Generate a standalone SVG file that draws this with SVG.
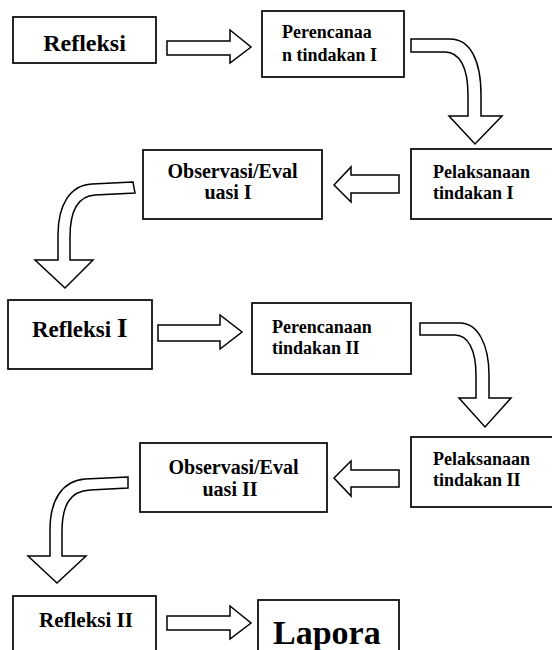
<svg xmlns="http://www.w3.org/2000/svg" width="552" height="650" viewBox="0 0 552 650">
<style>
.box{fill:#fff;stroke:#000;stroke-width:1.7}
.arr{fill:#fff;stroke:#000;stroke-width:1.5;stroke-linejoin:miter}
.t{font-family:'Liberation Serif','Times New Roman',serif;font-weight:bold;fill:#000}
.m{font-size:18px}
.o{font-size:20px}
</style>
<rect width="552" height="650" fill="#fff"/>
<g id="connectors">
<path class="arr" d="M167,41 L230,41 L230,30 L251,47 L230,63 L230,55 L167,55 Z"/>
<path class="arr" d="M411,39 L450,39 C470,39 481,60 481,95 L481,116 L502,116 L475,144 L449,116 L468,116 L468,95 C468,68 460,52 445,52 L411,52 Z"/>
<path class="arr" d="M399,175 L351,175 L351,167 L334,185 L351,202 L351,193 L399,193 Z"/>
<path class="arr" d="M133,182 L92,184 C70,185 58,205 58,235 L58,260 L35,260 L65,288 L93,260 L70,260 L70,237 C70,210 78,196 95,195 L135,193 Z"/>
<path class="arr" d="M158,325 L220,325 L220,315 L242,332 L220,349 L220,341 L158,341 Z"/>
<path class="arr" d="M420,323 L460,323 C478,323 489,345 489,375 L489,398 L511,398 L485,427 L459,398 L476,398 L476,375 C476,350 468,335 455,335 L420,335 Z"/>
<path class="arr" d="M399,470 L351,470 L351,461 L334,478 L351,496 L351,487 L399,487 Z"/>
<path class="arr" d="M128,477 L85,479 C62,481 50,500 50,530 L50,556 L28,556 L57,583 L86,556 L62,556 L62,532 C62,505 70,491 90,490 L128,488 Z"/>
<path class="arr" d="M167,616 L230,616 L230,606 L251,623 L230,639 L230,630 L167,630 Z"/>
</g>
<g id="n1"><rect class="box" x="13" y="17" width="143" height="46"/><text class="t" x="84.5" y="51" font-size="24" text-anchor="middle">Refleksi</text></g>
<g id="n2"><rect class="box" x="262" y="11" width="142" height="66"/><text class="t m" x="282" y="38">Perencanaa</text><text class="t m" x="282" y="61">n tindakan I</text></g>
<g id="n3"><rect class="box" x="411" y="149" width="145" height="70"/><text class="t m" x="433" y="178">Pelaksanaan</text><text class="t m" x="433" y="199">tindakan I</text></g>
<g id="n4"><rect class="box" x="143" y="150" width="179" height="69"/><text class="t o" x="232.5" y="178" text-anchor="middle">Observasi/Eval</text><text class="t o" x="228" y="199" text-anchor="middle">uasi I</text></g>
<g id="n5"><rect class="box" x="8" y="300" width="144" height="69"/><text class="t" x="32" y="337" font-size="23">Refleksi <tspan font-size="27">I</tspan></text></g>
<g id="n6"><rect class="box" x="252" y="303" width="159" height="71"/><text class="t m" x="272" y="333">Perencanaan</text><text class="t m" x="272" y="354">tindakan II</text></g>
<g id="n7"><rect class="box" x="411" y="437" width="145" height="70"/><text class="t m" x="433" y="465">Pelaksanaan</text><text class="t m" x="433" y="486">tindakan II</text></g>
<g id="n8"><rect class="box" x="140" y="443" width="187" height="69"/><text class="t o" x="233.5" y="474" text-anchor="middle">Observasi/Eval</text><text class="t o" x="230" y="496" text-anchor="middle">uasi II</text></g>
<g id="n9"><rect class="box" x="13" y="596" width="143" height="60"/><text class="t" x="86" y="627" font-size="21" text-anchor="middle">Refleksi II</text></g>
<g id="n10"><rect class="box" x="258" y="600" width="141" height="56"/><text class="t" x="273" y="644" font-size="34">Lapora</text></g>
</svg>
